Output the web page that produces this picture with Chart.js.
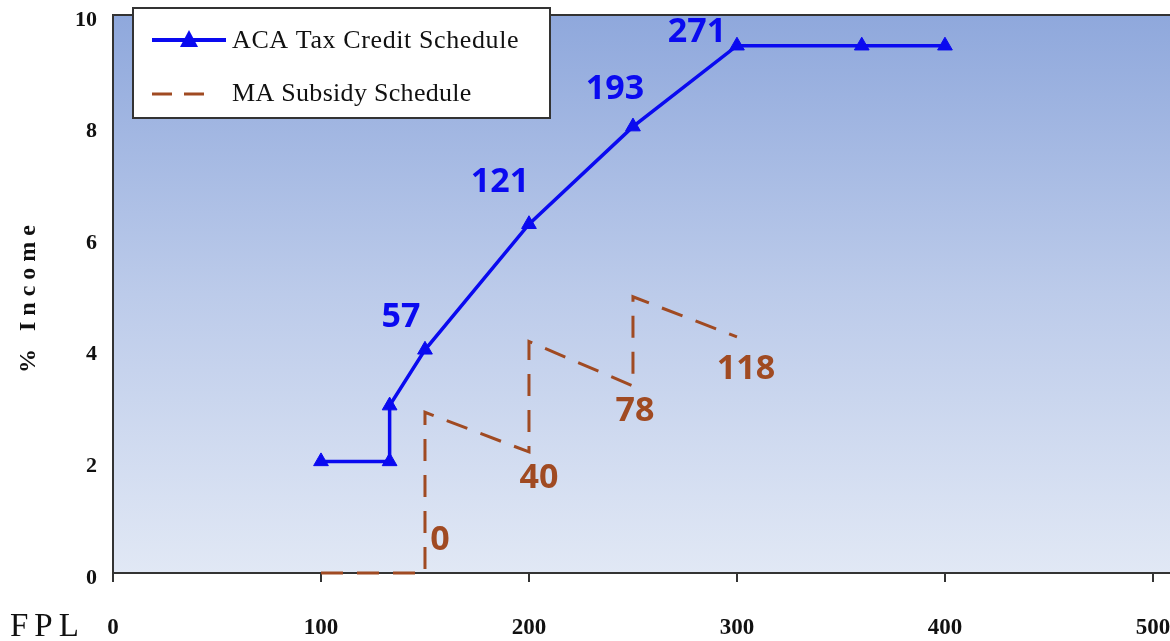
<!DOCTYPE html>
<html>
<head>
<meta charset="utf-8">
<script src="https://cdn.jsdelivr.net/npm/chart.js@4.4.1/dist/chart.umd.min.js"></script>
<style>
  html, body { margin: 0; padding: 0; background: #ffffff; overflow: hidden; }
  #wrap { width: 1170px; height: 641px; }
</style>
</head>
<body>
<div id="wrap"><canvas id="c" width="1170" height="641"></canvas></div>
<script>
// ---- data ----
const fplTicks = [0, 100, 200, 300, 400, 500];
const incomeTicks = [0, 2, 4, 6, 8, 10];

const acaFpl = [100, 133, 133, 150, 200, 250, 300, 360, 400];
const acaIncome = [2, 2, 3, 4, 6.25, 8.0, 9.45, 9.45, 9.45];
const acaLabels = ['', '', '', '57', '121', '193', '271', '', ''];

const maFpl = [100, 150, 150, 200, 200, 250, 250, 300];
const maIncome = [0, 0, 2.88, 2.17, 4.15, 3.35, 4.95, 4.23];
const maLabels = ['', '0', '', '40', '', '78', '', '118'];

const seriesNames = ['ACA Tax Credit Schedule', 'MA Subsidy Schedule'];
const xAxisName = 'FPL';
const yAxisName = '% Income';

// ---- styling ----
const BLUE = '#0a0af0';
const BROWN = '#a04a22';
const SERIF = '"Liberation Serif", "Times New Roman", serif';
const SANS = '"Open Sans", "Noto Sans", sans-serif';

// label offsets (pixels) relative to their point, per dataset index
const labelOffsets = [
  { 3: [-24, -32], 4: [-29, -42], 5: [-18, -37], 6: [-40, -13] },
  { 1: [15, -33], 3: [10, 26], 5: [2, 25], 7: [9, 32] }
];

function zeroPad(s, keys) {
  keys.forEach(k => {
    s['padding' + k] = 0;
    if (s._margins) s._margins[k.toLowerCase()] = 0;
  });
}

const bgPlugin = {
  id: 'bg',
  beforeDraw(chart) {
    const { ctx, chartArea: a } = chart;
    const g = ctx.createLinearGradient(0, a.top, 0, a.bottom);
    g.addColorStop(0, '#8fa8dc');
    g.addColorStop(0.5, '#bccbea');
    g.addColorStop(1, '#e1e8f5');
    ctx.save();
    ctx.fillStyle = g;
    ctx.fillRect(a.left, a.top, chart.width - a.left, a.bottom - a.top);
    ctx.restore();
  },
  afterDraw(chart) {
    const { ctx, chartArea: a } = chart;
    ctx.save();
    // top border
    ctx.strokeStyle = '#333';
    ctx.lineWidth = 2;
    ctx.beginPath();
    ctx.moveTo(a.left, a.top);
    ctx.lineTo(chart.width, a.top);
    ctx.stroke();

    // y axis title
    ctx.save();
    ctx.translate(29, 299);
    ctx.rotate(-Math.PI / 2);
    ctx.font = 'bold 24px ' + SERIF;
    ctx.letterSpacing = '6px';
    ctx.fillStyle = '#111';
    ctx.textAlign = 'center';
    ctx.textBaseline = 'middle';
    ctx.fillText(yAxisName, 3, 0);
    ctx.restore();

    // x axis name
    ctx.font = '33px ' + SERIF;
    ctx.letterSpacing = '6px';
    ctx.fillStyle = '#111';
    ctx.textAlign = 'left';
    ctx.textBaseline = 'middle';
    ctx.fillText(xAxisName, 10, 627);
    ctx.letterSpacing = '0px';

    // legend
    const bx = 133, by = 8, bw = 417, bh = 110;
    ctx.fillStyle = '#ffffff';
    ctx.fillRect(bx, by, bw, bh);
    ctx.strokeStyle = '#333';
    ctx.lineWidth = 2;
    ctx.strokeRect(bx, by, bw, bh);

    const ds = chart.data.datasets;
    // entry 1
    ctx.strokeStyle = ds[0].borderColor;
    ctx.lineWidth = 4;
    ctx.beginPath();
    ctx.moveTo(152, 40);
    ctx.lineTo(226, 40);
    ctx.stroke();
    ctx.fillStyle = ds[0].borderColor;
    ctx.beginPath();
    ctx.moveTo(189, 30);
    ctx.lineTo(198, 47);
    ctx.lineTo(180, 47);
    ctx.closePath();
    ctx.fill();
    // entry 2
    ctx.strokeStyle = ds[1].borderColor;
    ctx.lineWidth = 3;
    ctx.setLineDash([20, 12]);
    ctx.beginPath();
    ctx.moveTo(152, 94);
    ctx.lineTo(212, 94);
    ctx.stroke();
    ctx.setLineDash([]);

    ctx.font = '26px ' + SERIF;
    ctx.fillStyle = '#111';
    ctx.textAlign = 'left';
    ctx.textBaseline = 'middle';
    ctx.letterSpacing = '0.6px';
    ctx.fillText(ds[0].label, 232, 41);
    ctx.letterSpacing = '0.3px';
    ctx.fillText(ds[1].label, 232, 94);
    ctx.letterSpacing = '0px';
    ctx.restore();
  }
};

const labelPlugin = {
  id: 'pointLabels',
  afterDatasetsDraw(chart) {
    const { ctx } = chart;
    ctx.save();
    ctx.font = 'bold 34px ' + SANS;
    ctx.textAlign = 'center';
    ctx.textBaseline = 'middle';
    chart.data.datasets.forEach((ds, di) => {
      const meta = chart.getDatasetMeta(di);
      ds.pointText.forEach((t, i) => {
        if (!t) return;
        const el = meta.data[i];
        const off = labelOffsets[di][i] || [0, -30];
        ctx.fillStyle = ds.textColor;
        ctx.fillText(t, el.x + off[0], el.y + off[1]);
      });
    });
    ctx.restore();
  }
};

const xMax = 508.2;

new Chart(document.getElementById('c'), {
  type: 'line',
  data: {
    datasets: [
      {
        label: seriesNames[0],
        data: acaFpl.map((x, i) => ({ x, y: acaIncome[i] })),
        pointText: acaLabels,
        textColor: BLUE,
        borderColor: BLUE,
        backgroundColor: BLUE,
        borderWidth: 3.5,
        pointStyle: 'triangle',
        pointRadius: 8.5,
        pointHoverRadius: 8.5,
        pointBackgroundColor: BLUE,
        pointBorderColor: BLUE,
        pointBorderWidth: 1,
        tension: 0,
        fill: false,
        clip: false,
        order: 1
      },
      {
        label: seriesNames[1],
        data: maFpl.map((x, i) => ({ x, y: maIncome[i] })),
        pointText: maLabels,
        textColor: BROWN,
        borderColor: BROWN,
        backgroundColor: BROWN,
        borderWidth: 3,
        borderDash: [22, 14],
        pointRadius: 0,
        pointHoverRadius: 0,
        tension: 0,
        fill: false,
        clip: false,
        order: 2
      }
    ]
  },
  options: {
    responsive: false,
    animation: false,
    events: [],
    layout: { autoPadding: false, padding: { top: 15, right: 0, left: 0, bottom: 0 } },
    plugins: {
      legend: { display: false },
      tooltip: { enabled: false },
      title: { display: false }
    },
    scales: {
      x: {
        type: 'linear',
        min: 0,
        max: xMax,
        afterBuildTicks: s => { s.ticks = fplTicks.map(v => ({ value: v })); },
        afterFit: s => { s.height = 68; zeroPad(s, ['Left', 'Right', 'Top', 'Bottom']); },
        grid: { drawOnChartArea: false, drawTicks: true, tickLength: 9, color: '#333', lineWidth: 2 },
        border: { display: true, color: '#333', width: 2 },
        ticks: {
          autoSkip: false,
          maxRotation: 0,
          padding: 32,
          color: '#111',
          font: { family: SERIF, weight: 'bold', size: 23 }
        }
      },
      y: {
        type: 'linear',
        min: 0,
        max: 10,
        afterBuildTicks: s => { s.ticks = incomeTicks.map(v => ({ value: v })); },
        afterFit: s => { s.width = 113; zeroPad(s, ['Left', 'Right', 'Top', 'Bottom']); },
        grid: { display: true, drawOnChartArea: false, drawTicks: false },
        border: { display: true, color: '#333', width: 2 },
        ticks: {
          padding: 16,
          labelOffset: 5,
          color: '#111',
          font: { family: SERIF, weight: 'bold', size: 22 }
        }
      }
    }
  },
  plugins: [bgPlugin, labelPlugin]
});
</script>
</body>
</html>
